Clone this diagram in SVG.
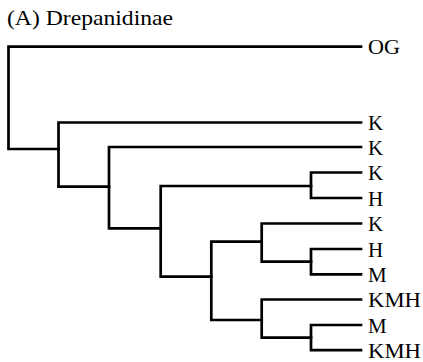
<svg xmlns="http://www.w3.org/2000/svg" width="423" height="362" viewBox="0 0 423 362">
<style>
.br{fill:none;stroke:#000;stroke-width:2.7;stroke-linejoin:miter;stroke-linecap:square}
.lb{font-family:"Liberation Serif","Times New Roman",serif;font-size:21px;fill:#000}
</style>
<rect width="423" height="362" fill="#fff"/>
<text class="lb" x="7" y="25" textLength="166" lengthAdjust="spacingAndGlyphs">(A) Drepanidinae</text>
<g id="connectors">
<path class="br" d="M361,46.7 H8.5 V149 H58.5"/>
<path class="br" d="M361,122.5 H58.5 V186.7 H109"/>
<path class="br" d="M361,147 H109 V228.3 H160.7"/>
<path class="br" d="M311,186 H160.7 V276.7 H211.3"/>
<path class="br" d="M361,172.5 H311 V198 H361"/>
<path class="br" d="M261.7,241.7 H211.3 V320 H261.7"/>
<path class="br" d="M361,223.5 H261.7 V261.7 H311"/>
<path class="br" d="M361,249 H311 V274.3 H361"/>
<path class="br" d="M361,299.5 H261.7 V337.7 H311"/>
<path class="br" d="M361,325 H311 V350.2 H361"/>
</g>
<g id="tip-og"><text class="lb" x="368" y="54" textLength="32" lengthAdjust="spacingAndGlyphs">OG</text></g>
<g id="tip-k1"><text class="lb" x="368" y="130">K</text></g>
<g id="tip-k2"><text class="lb" x="368" y="154.5">K</text></g>
<g id="tip-k3"><text class="lb" x="368" y="180">K</text></g>
<g id="tip-h1"><text class="lb" x="368" y="205.5">H</text></g>
<g id="tip-k4"><text class="lb" x="368" y="231">K</text></g>
<g id="tip-h2"><text class="lb" x="368" y="256.5">H</text></g>
<g id="tip-m1"><text class="lb" x="368" y="281.8">M</text></g>
<g id="tip-kmh1"><text class="lb" x="368" y="307" textLength="53" lengthAdjust="spacingAndGlyphs">KMH</text></g>
<g id="tip-m2"><text class="lb" x="368" y="332.5">M</text></g>
<g id="tip-kmh2"><text class="lb" x="368" y="357.7" textLength="53" lengthAdjust="spacingAndGlyphs">KMH</text></g>
</svg>
